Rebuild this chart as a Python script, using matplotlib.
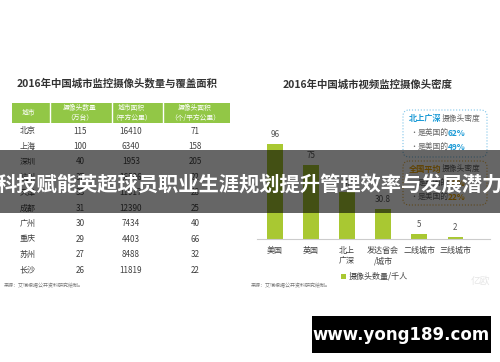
import matplotlib.pyplot as plt
from matplotlib.patches import Rectangle, FancyBboxPatch

plt.rcParams['font.family'] = ['Noto Sans CJK SC', 'DejaVu Sans']

# left table
table_title = "2016年中国城市监控摄像头数量与覆盖面积"
table_header = ["城市", "摄像头数量\n（万台）", "城市面积\n（平方公里）", "摄像头面积\n（个/平方公里）"]
cities = ["北京", "上海", "深圳", "杭州", "天津", "成都", "广州", "重庆", "苏州", "长沙"]
cameras = [115, 100, 40, 37, 33, 31, 30, 29, 27, 26]
areas = [16410, 6340, 1953, 16596, 11917, 12390, 7434, 4403, 8488, 11819]
density_area = [71, 158, 205, 22, 28, 25, 40, 66, 32, 22]

# right bar chart
chart_title = "2016年中国城市视频监控摄像头密度"
groups = ["美国", "英国", "北上\n广深", "发达省会\n/城市", "二线城市", "三线城市"]
density = [96, 75, 47, 30.8, 5, 2]
value_labels = ["96", "75", "47", "30.8", "5", "2"]
legend_label = "摄像头数量/千人"
source = "来源：艾瑞根据公开资料研究绘制。"
banner = "科技赋能英超球员职业生涯规划提升管理效率与发展潜力"
site = "www.yong189.com"

green = '#a9c832'
header_green = '#92c746'
dark = '#404040'
blue = '#1a9ad6'
orange = '#f0a500'

fig = plt.figure(figsize=(5, 3.62), dpi=100)
fig.patch.set_facecolor('white')

# base layer in pixel coordinates
base = fig.add_axes([0, 0, 1, 1], zorder=0)
base.set_xlim(0, 500)
base.set_ylim(362, 0)
base.axis('off')

base.text(17, 83, table_title, fontsize=7.5, fontweight='bold', color='#333333', va='center')

col_x = [28, 80, 131, 195]
col_edges = [12, 50, 112, 163, 230]
base.add_patch(Rectangle((12, 103), 218, 20, facecolor=header_green, edgecolor='none'))
for e in col_edges[1:-1]:
    base.plot([e, e], [103, 123], color='white', lw=1)
for x, h in zip(col_x, table_header):
    base.text(x, 113, h, fontsize=4.9, color='white', ha='center', va='center', linespacing=1.3)

for i, c in enumerate(cities):
    y = 131 + 15.45 * i
    row = [c, cameras[i], areas[i], density_area[i]]
    for x, v in zip(col_x, row):
        base.text(x, y, str(v), fontsize=5.8, color=dark, ha='center', va='center')

base.text(4, 286, source, fontsize=3.6, color='#777777', va='center')
base.text(251, 286, source, fontsize=3.6, color='#777777', va='center')
base.text(283, 85, chart_title, fontsize=7.5, fontweight='bold', color='#333333', va='center')

# info boxes
base.add_patch(FancyBboxPatch((403, 110), 84, 47, boxstyle="round,pad=0,rounding_size=6",
                              facecolor='white', edgecolor='#7cc3e8', lw=0.8, linestyle=':'))
base.text(409, 119, "北上广深", fontsize=5.9, fontweight='bold', color=blue, va='center')
base.text(442, 119, "摄像头密度", fontsize=5.6, color='#666666', va='center')
base.text(410, 133, "•", fontsize=5, color='#666666', va='center')
base.text(418, 133, "是英国的", fontsize=5.6, color='#666666', va='center')
base.text(448, 133, "62%", fontsize=6, fontweight='bold', color=blue, va='center')
base.text(410, 147, "•", fontsize=5, color='#666666', va='center')
base.text(418, 147, "是美国的", fontsize=5.6, color='#666666', va='center')
base.text(448, 147, "49%", fontsize=6, fontweight='bold', color=blue, va='center')

base.add_patch(FancyBboxPatch((403, 161), 84, 44, boxstyle="round,pad=0,rounding_size=6",
                              facecolor='white', edgecolor='#e8b040', lw=0.8, linestyle=':'))
base.text(409, 169, "全国平均", fontsize=5.9, fontweight='bold', color=orange, va='center')
base.text(442, 169, "摄像头密度", fontsize=5.6, color='#666666', va='center')
base.text(410, 183, "•", fontsize=5, color='#666666', va='center')
base.text(418, 183, "是英国的", fontsize=5.6, color='#666666', va='center')
base.text(448, 183, "28%", fontsize=6, fontweight='bold', color=orange, va='center')
base.text(410, 197, "•", fontsize=5, color='#666666', va='center')
base.text(418, 197, "是美国的", fontsize=5.6, color='#666666', va='center')
base.text(448, 197, "22%", fontsize=6, fontweight='bold', color=orange, va='center')

base.text(480, 281, "亿欧", fontsize=7, color='#e6e6e6', ha='center', va='center')

# bar chart
ax = fig.add_axes([257 / 500, 1 - 239 / 362, 233 / 500, 99 / 362], zorder=1)
ax.set_facecolor('none')
xs = list(range(len(groups)))
ax.bar(xs, density, width=0.42, color=green, label=legend_label)
for x, v, s in zip(xs, density, value_labels):
    ax.text(x, v + 5, s, fontsize=5.8, color='#555555', ha='center', va='bottom')
ax.set_xlim(-0.5, 5.97)
ax.set_ylim(0, 100)
ax.set_xticks(xs)
ax.set_xticklabels(groups, fontsize=5.8, color=dark, linespacing=1.2)
ax.tick_params(axis='x', length=0, pad=5)
ax.set_yticks([])
for s in ['top', 'right', 'left']:
    ax.spines[s].set_visible(False)
ax.spines['bottom'].set_color('#cccccc')
ax.spines['bottom'].set_linewidth(0.8)
ax.legend(loc='upper left', bbox_to_anchor=(0.33, -0.26), frameon=False, fontsize=5.8,
          handlelength=0.6, handleheight=0.6, handletextpad=0.3, labelcolor=dark)

# overlay: banner and site stamp
top = fig.add_axes([0, 0, 1, 1], zorder=2)
top.set_xlim(0, 500)
top.set_ylim(362, 0)
top.axis('off')
top.patch.set_alpha(0)
top.add_patch(Rectangle((0, 150), 500, 63, facecolor='black', alpha=0.6, edgecolor='none'))
top.text(250, 185, banner, fontsize=14.6, fontweight='bold', color='white', ha='center', va='center')
top.add_patch(Rectangle((312, 316), 179, 37, facecolor='black', edgecolor='none'))
top.text(401.5, 334.5, site, fontsize=12, fontweight='bold', color='white', ha='center', va='center',
         family=['DejaVu Sans'])

fig.savefig('out.png', dpi=100)
